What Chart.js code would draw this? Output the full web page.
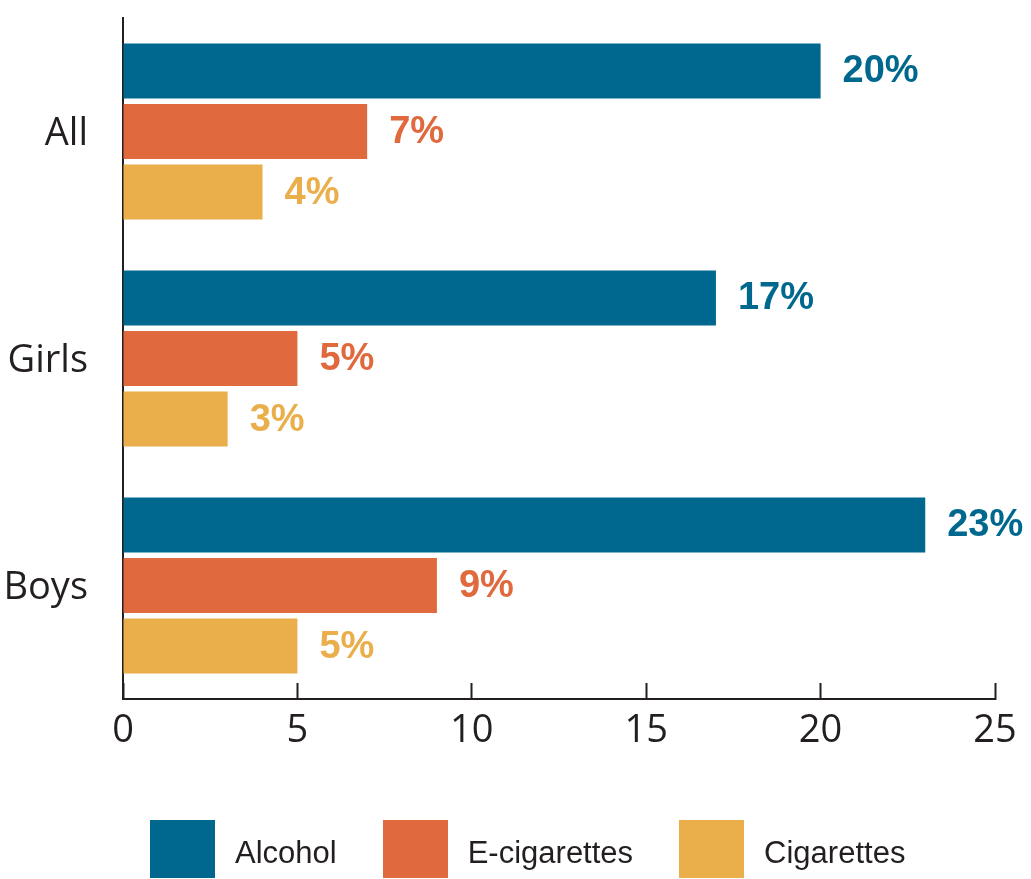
<!DOCTYPE html>
<html>
<head>
<meta charset="utf-8">
<script src="https://cdn.jsdelivr.net/npm/chart.js@4/dist/chart.umd.min.js"></script>
<style>
  html, body { margin: 0; padding: 0; background: #fff; overflow: hidden; }
  #wrap { position: relative; width: 1031px; height: 879px; }
  #legend {
    position: absolute; left: 150px; top: 820px;
    display: flex; align-items: center;
    font-family: "Liberation Sans", Arial, sans-serif; font-size: 31px; color: #231f20;
  }
  .item { display: flex; align-items: center; margin-right: 46px; }
  .item span { padding-top: 8px; }
  .box { width: 65px; height: 58px; margin-right: 20px; }
</style>
</head>
<body>
<div id="wrap">
  <canvas id="barChart" width="1031" height="879"></canvas>
  <div id="legend"></div>
</div>
<script>
const categories = ['All', 'Girls', 'Boys'];
const seriesNames = ['Alcohol', 'E-cigarettes', 'Cigarettes'];
const alcohol = [20, 17, 23];
const ecigs = [7, 5, 9];
const cigs = [4, 3, 5];
const xTicks = [0, 5, 10, 15, 20, 25];

const colors = ['#00688f', '#e1693e', '#eaae4b'];
const ink = '#231f20';

// value labels to the right of each bar
const valueLabels = {
  id: 'valueLabels',
  afterDatasetsDraw(chart) {
    const ctx = chart.ctx;
    ctx.save();
    ctx.font = 'bold 38px "Liberation Sans", Arial, sans-serif';
    ctx.textAlign = 'left';
    ctx.textBaseline = 'middle';
    chart.data.datasets.forEach((ds, i) => {
      const meta = chart.getDatasetMeta(i);
      ctx.fillStyle = ds.backgroundColor;
      meta.data.forEach((bar, j) => {
        ctx.fillText(ds.data[j] + '%', bar.x + 22, bar.y + 1);
      });
    });
    ctx.restore();
  }
};

const ctx = document.getElementById('barChart').getContext('2d');
const chart = new Chart(ctx, {
  type: 'bar',
  data: {
    labels: categories,
    datasets: [
      { label: seriesNames[0], data: alcohol, backgroundColor: colors[0] },
      { label: seriesNames[1], data: ecigs, backgroundColor: colors[1] },
      { label: seriesNames[2], data: cigs, backgroundColor: colors[2] }
    ]
  },
  options: {
    indexAxis: 'y',
    responsive: false,
    animation: false,
    categoryPercentage: 0.8,
    barPercentage: 0.91,
    layout: { padding: { top: 18, right: 36, bottom: 127, left: 0 } },
    plugins: {
      legend: { display: false },
      tooltip: { enabled: false }
    },
    scales: {
      x: {
        min: 0,
        max: 25,
        afterBuildTicks: (scale) => { scale.ticks = xTicks.map(v => ({ value: v })); },
        afterFit: (scale) => {
          scale.height = 53;
          scale.paddingLeft = 0;
          scale.paddingRight = 0;
        },
        border: { display: true, color: ink, width: 2 },
        grid: { display: true, drawOnChartArea: false, drawTicks: true, tickLength: -16, tickColor: ink, tickWidth: 2 },
        ticks: {
          padding: 25,
          color: ink,
          font: { family: '"Open Sans", sans-serif', size: 38 }
        }
      },
      y: {
        afterFit: (scale) => {
          scale.width = 123;
          scale.paddingTop = 0;
          scale.paddingBottom = 0;
        },
        border: { display: true, color: ink, width: 2 },
        grid: { display: false },
        ticks: {
          padding: 27,
          labelOffset: 3,
          color: ink,
          font: { family: '"Open Sans", sans-serif', size: 38 }
        }
      }
    }
  },
  plugins: [valueLabels]
});

// html legend built from the datasets
const legendEl = document.getElementById('legend');
chart.data.datasets.forEach(ds => {
  const item = document.createElement('div');
  item.className = 'item';
  const box = document.createElement('div');
  box.className = 'box';
  box.style.background = ds.backgroundColor;
  const txt = document.createElement('span');
  txt.textContent = ds.label;
  item.appendChild(box);
  item.appendChild(txt);
  legendEl.appendChild(item);
});
</script>
</body>
</html>
